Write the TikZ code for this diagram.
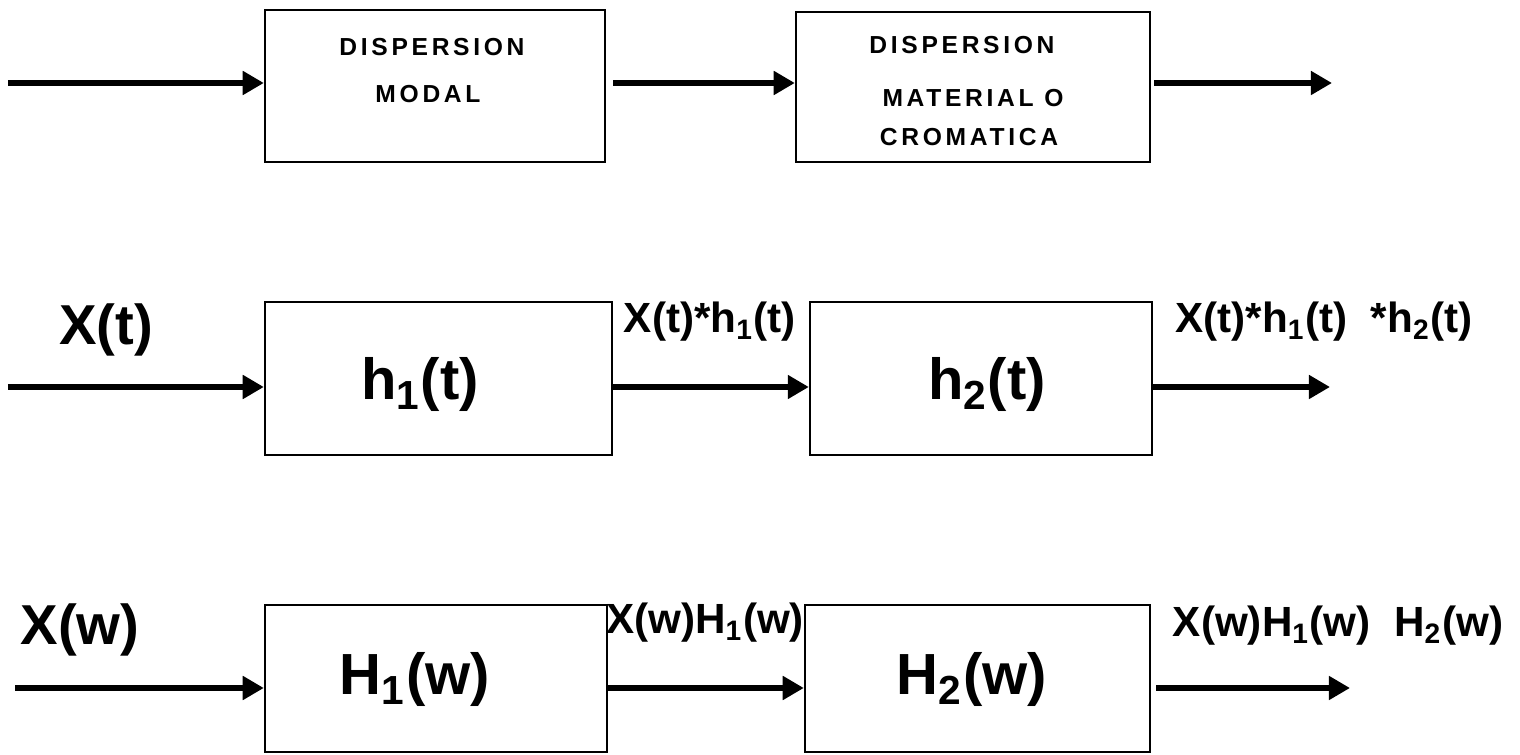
\documentclass[tikz,border=0pt]{standalone}
\usepackage{fontspec}
\setmainfont{Liberation Sans}
\newfontfamily\capsfont[LetterSpace=15]{Liberation Sans}
\usetikzlibrary{arrows.meta}
\begin{document}
\begin{tikzpicture}[x=0.01cm, y=-0.01cm, font=\bfseries,
          blk/.style={draw, line width=0.6pt, inner sep=0pt},
          arr/.style={line width=1.8pt, -{Triangle[length=6pt,width=6.5pt]}},
          caps/.style={font=\capsfont\bfseries\fontsize{7}{8}\selectfont},
          lbl/.style={font=\bfseries\fontsize{12}{14}\selectfont},
          sig/.style={font=\bfseries\fontsize{16}{18}\selectfont},
          big/.style={font=\bfseries\fontsize{16.5}{19}\selectfont}]
        \useasboundingbox (0,0) rectangle (1520,755);
        % row 1
        \node[blk, minimum width=3.40cm, minimum height=1.52cm] (m1) at (435,86) {};
        \node[blk, minimum width=3.54cm, minimum height=1.50cm] (m2) at (973,87) {};
        \node[caps] (t11) at (432,47) {DISPERSION};
        \node[caps] (t12) at (428,94) {MODAL};
        \node[caps] (t21) at (962,45) {DISPERSION};
        \node[caps] (t22) at (973,98) {MATERIAL O};
        \node[caps] (t23) at (969,137) {CROMATICA};
        \coordinate (in1) at (8,83);
        \coordinate (out1) at (1332,83);
        \draw[arr] (in1) -- (in1 -| m1.west);
        \draw[arr] ([xshift=0.07cm]m1.east |- in1) -- (m2.west |- in1);
        \draw[arr] ([xshift=0.03cm]m2.east |- in1) -- (out1);
        % row 2
        \node[blk, minimum width=3.47cm, minimum height=1.53cm] (h1) at (438.5,378.5) {};
        \node[blk, minimum width=3.42cm, minimum height=1.53cm] (h2) at (981,378.5) {};
        \node[big] (h1t) at (420,385) {h\textsubscript{1}(t)};
        \node[big] (h2t) at (987,385) {h\textsubscript{2}(t)};
        \node[sig] (xt) at (106,330) {X(t)};
        \node[lbl] (xh1) at (710,322) {X(t)*h\textsubscript{1}(t)};
        \node[lbl] (xh2) at (1324,322) {X(t)*h\textsubscript{1}(t)\ \ *h\textsubscript{2}(t)};
        \coordinate (in2) at (8,387);
        \coordinate (out2) at (1330,387);
        \draw[arr] (in2) -- (in2 -| h1.west);
        \draw[arr] (h1.east |- in2) -- (h2.west |- in2);
        \draw[arr] (h2.east |- in2) -- (out2);
        % row 3
        \node[blk, minimum width=3.42cm, minimum height=1.47cm] (H1) at (436,678.5) {};
        \node[blk, minimum width=3.45cm, minimum height=1.47cm] (H2) at (977.5,678.5) {};
        \node[big] (H1w) at (415,680) {H\textsubscript{1}(w)};
        \node[big] (H2w) at (972,680) {H\textsubscript{2}(w)};
        \node[sig] (xw) at (80,630) {X(w)};
        \node[lbl] (xH1) at (705,623) {X(w)H\textsubscript{1}(w)};
        \node[lbl] (xH2) at (1338,626) {X(w)H\textsubscript{1}(w)\ \ H\textsubscript{2}(w)};
        \coordinate (in3) at (15,688);
        \coordinate (out3) at (1350,688);
        \draw[arr] (in3) -- (in3 -| H1.west);
        \draw[arr] (H1.east |- in3) -- (H2.west |- in3);
        \draw[arr] ([xshift=0.05cm]H2.east |- in3) -- (out3);
      \end{tikzpicture}
\end{document}
